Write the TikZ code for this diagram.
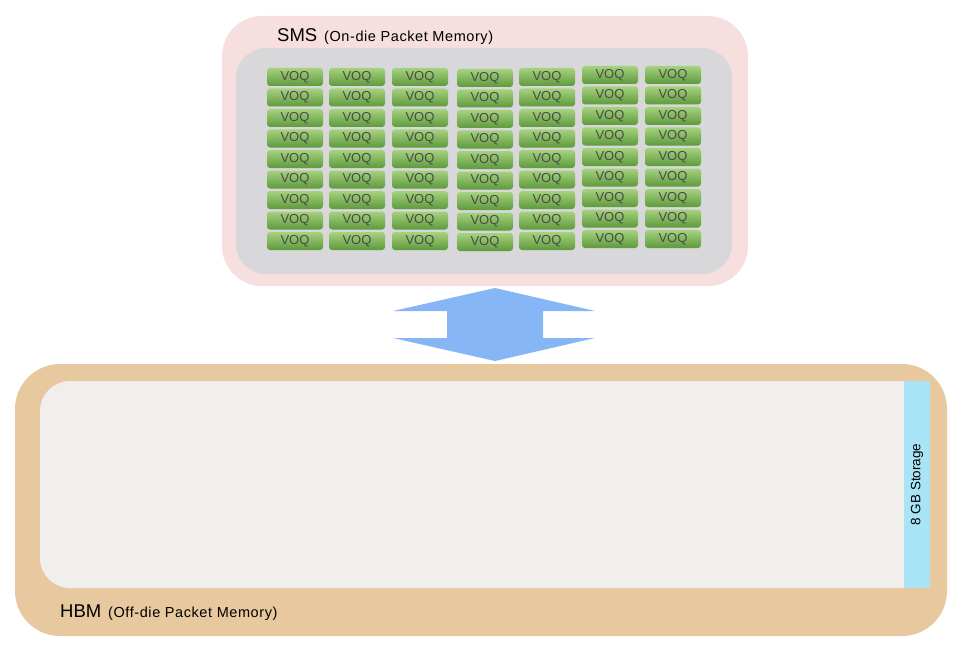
\documentclass[tikz,border=0pt]{standalone}
\usepackage{fontspec}
\setmainfont{Liberation Sans}
\newfontfamily\widefont[LetterSpace=4]{Liberation Sans}

\definecolor{smspink}{HTML}{F7DEDF}
\definecolor{smsgray}{HTML}{D8D8DA}
\definecolor{hbmtan}{HTML}{E8C89E}
\definecolor{hbmlight}{HTML}{F0EFEB}
\definecolor{storblue}{HTML}{A8E4F6}
\definecolor{arrowblue}{HTML}{86B6F6}
\definecolor{voqtop}{HTML}{A6D27E}
\definecolor{voqbot}{HTML}{5E9A3C}
\definecolor{voqtext}{HTML}{4A4A4A}

\tikzset{
  voqbox/.style={rectangle, rounded corners=3pt, minimum width=56pt, minimum height=18pt,
    top color=voqtop, bottom color=voqbot, inner sep=0pt,
    text=voqtext, font=\fontsize{13}{13}\selectfont},
  title/.style={anchor=base west, inner sep=0pt, font=\fontsize{18.5}{18.5}\selectfont},
  subtitle/.style={anchor=base west, inner sep=0pt, font=\widefont\fontsize{14.5}{14.5}\selectfont}
}

\begin{document}
\begin{tikzpicture}[x=1pt, y=-1pt]
    \useasboundingbox (0,0) rectangle (966,658);

    % Blocco SMS
    \node[fill=smspink, rounded corners=40pt, minimum width=526pt, minimum height=270pt] (sms) at (485,151) {};
    \node[fill=smsgray, rounded corners=30pt, minimum width=496pt, minimum height=226pt] (smsin) at (484,161) {};
    \node[title] (smstitle) at (277,42) {SMS};
    \node[subtitle] (smssub) at (324,42) {(On-die Packet Memory)};

    % Griglia di VOQ
    \foreach \x/\dy [count=\c] in {295/0, 357/0, 420/0, 485/1, 547/0, 610/-2, 673/-2}
        \foreach \r in {0,...,8}
            \node[voqbox] (voq-\r-\c) at (\x, {77+20.5*\r+\dy}) {VOQ};

    % Freccia doppia
    \fill[arrowblue] (495,288) -- (595,311) -- (543,311) -- (543,338) -- (595,338)
        -- (495,361) -- (393,338) -- (447,338) -- (447,311) -- (393,311) -- cycle;

    % Blocco HBM
    \node[fill=hbmtan, rounded corners=45pt, minimum width=932pt, minimum height=272pt] (hbm) at (481,500) {};
    \fill[hbmlight] (905,381) [rounded corners=30pt] -- (40,381) -- (40,588) [sharp corners] -- (905,588) -- cycle;
    \node[fill=storblue, rotate=90, minimum width=207pt, minimum height=26pt, inner sep=0pt,
        font=\fontsize{13.5}{13.5}\selectfont] (storage) at (917,484.5) {8 GB Storage};
    \node[title] (hbmtitle) at (60,617) {HBM};
    \node[subtitle] (hbmsub) at (108,617) {(Off-die Packet Memory)};
\end{tikzpicture}
\end{document}
